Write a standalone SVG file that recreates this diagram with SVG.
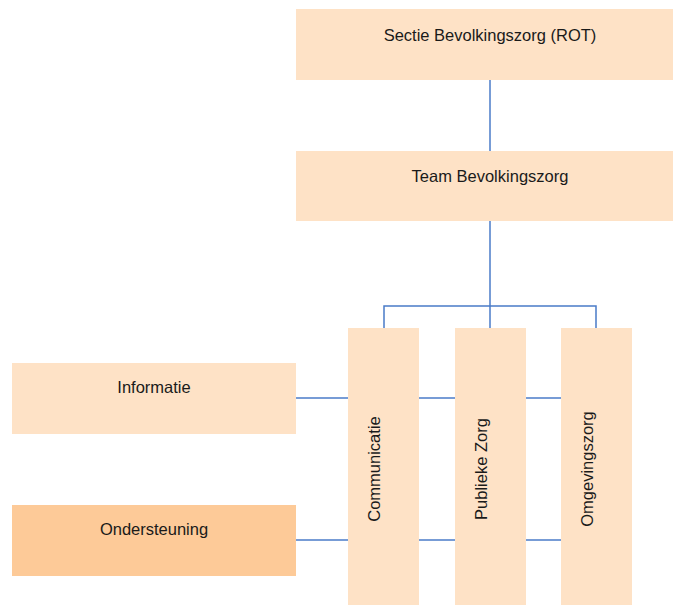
<svg xmlns="http://www.w3.org/2000/svg" width="673" height="605" viewBox="0 0 673 605">
<style>
.box{fill:#FEE2C6;}
.dark{fill:#FDCA98;}
.lbl{font-family:"Liberation Sans",Arial,sans-serif;font-size:16.5px;fill:#1a1a1a;text-anchor:middle;}
.conn{stroke:#4A7BC8;stroke-width:1.5;fill:none;}
</style>
<rect width="673" height="605" fill="#ffffff"/>
<g id="connectors">
<path class="conn" d="M490,80 V151"/>
<path class="conn" d="M490,221 V328"/>
<path class="conn" d="M384,328 V306 H596 V328"/>
<path class="conn" d="M296,398 H561"/>
<path class="conn" d="M296,540 H561"/>
</g>
<g id="sectie">
<rect class="box" x="296" y="9" width="388" height="71"/>
<text class="lbl" x="490" y="41">Sectie Bevolkingszorg (ROT)</text>
</g>
<g id="team">
<rect class="box" x="296" y="151" width="388" height="70"/>
<text class="lbl" x="490" y="182">Team Bevolkingszorg</text>
</g>
<g id="informatie">
<rect class="box" x="12" y="363" width="284" height="71"/>
<text class="lbl" x="154" y="393">Informatie</text>
</g>
<g id="ondersteuning">
<rect class="dark" x="12" y="505" width="284" height="71"/>
<text class="lbl" x="154" y="535">Ondersteuning</text>
</g>
<g id="communicatie">
<rect class="box" x="348" y="328" width="71" height="282"/>
<text class="lbl" transform="translate(380,469) rotate(-90)">Communicatie</text>
</g>
<g id="publieke-zorg">
<rect class="box" x="455" y="328" width="71" height="282"/>
<text class="lbl" transform="translate(487,469) rotate(-90)">Publieke Zorg</text>
</g>
<g id="omgevingszorg">
<rect class="box" x="561" y="328" width="71" height="282"/>
<text class="lbl" transform="translate(593,469) rotate(-90)">Omgevingszorg</text>
</g>
</svg>
